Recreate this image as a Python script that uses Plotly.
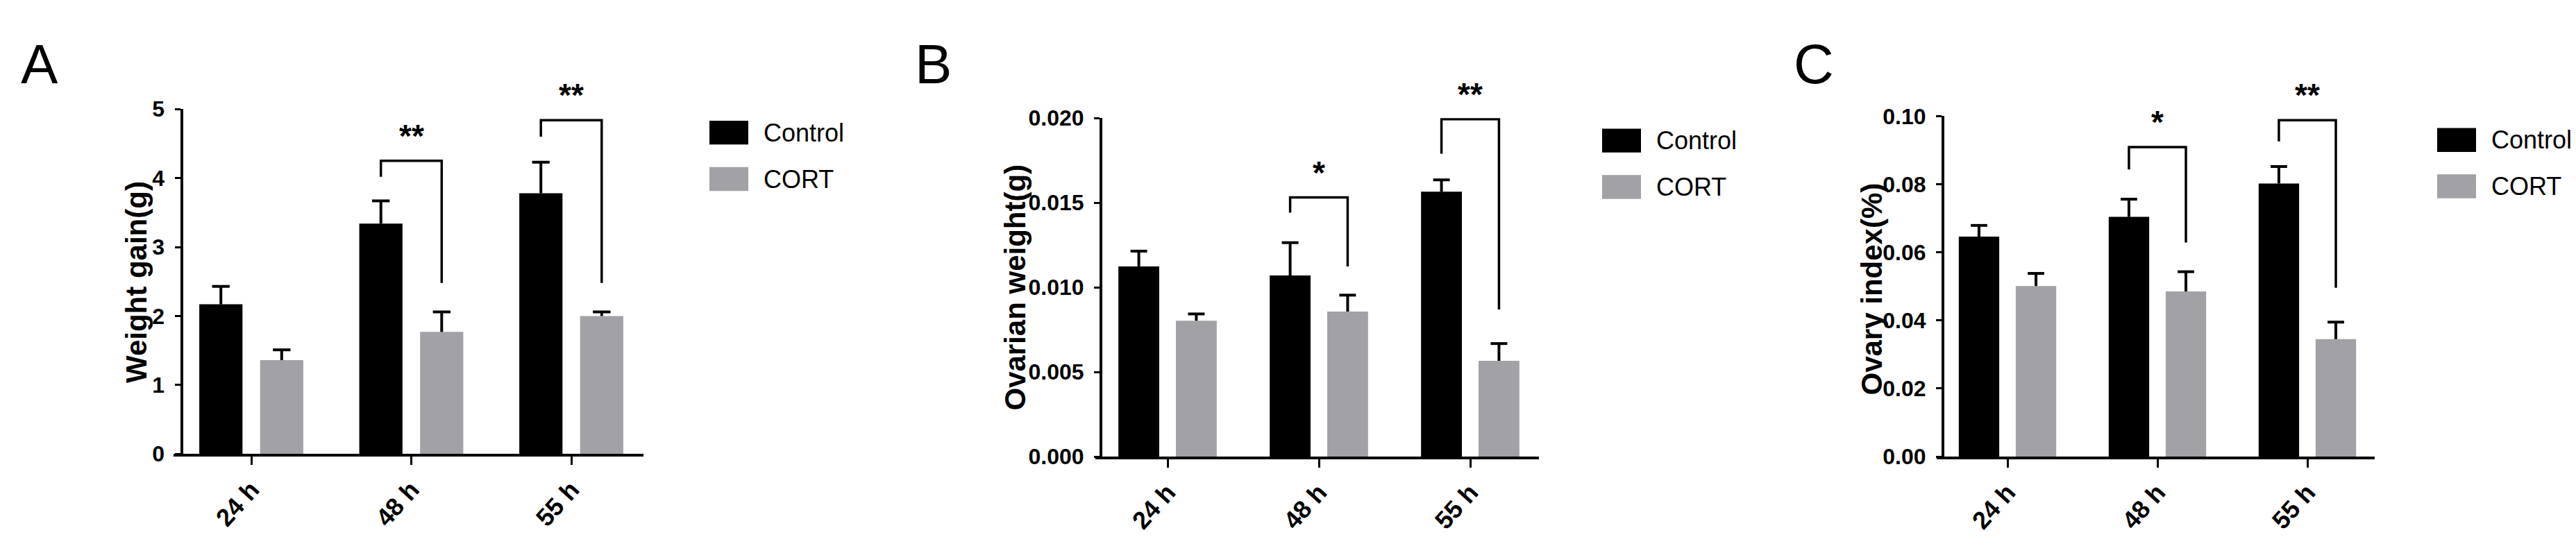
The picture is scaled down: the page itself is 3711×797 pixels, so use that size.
import plotly.graph_objects as go

WIDTH = 3711
HEIGHT = 797

CONTROL_COLOR = "#000000"
CORT_COLOR = "#A2A2A6"

FONT = "Liberation Sans, Arial, sans-serif"

# DATA
TIMES = ["24 h", "48 h", "55 h"]
GROUPS = ["Control", "CORT"]

WEIGHT_CONTROL = [2.17, 3.34, 3.78]
WEIGHT_CONTROL_SEM = [0.26, 0.33, 0.45]
WEIGHT_CORT = [1.36, 1.77, 2.00]
WEIGHT_CORT_SEM = [0.15, 0.29, 0.06]

OVARIAN_CONTROL = [0.01124, 0.01070, 0.01565]
OVARIAN_CONTROL_SEM = [0.00090, 0.00194, 0.00070]
OVARIAN_CORT = [0.00803, 0.00857, 0.00566]
OVARIAN_CORT_SEM = [0.00040, 0.00097, 0.00102]

INDEX_CONTROL = [0.0646, 0.0704, 0.0802]
INDEX_CONTROL_SEM = [0.0033, 0.0052, 0.0050]
INDEX_CORT = [0.0501, 0.0485, 0.0345]
INDEX_CORT_SEM = [0.0037, 0.0058, 0.0050]

# SIGNIFICANCE (48 h and 55 h)
SIG_TIMES = ["48 h", "55 h"]

WEIGHT_STARS = ["**", "**"]
WEIGHT_BRACKET_TOP = [4.25, 4.84]
WEIGHT_BRACKET_LEFT = [4.02, 4.60]
WEIGHT_BRACKET_RIGHT = [2.48, 2.48]

OVARIAN_STARS = ["*", "**"]
OVARIAN_BRACKET_TOP = [0.01531, 0.01994]
OVARIAN_BRACKET_LEFT = [0.01441, 0.01790]
OVARIAN_BRACKET_RIGHT = [0.01124, 0.00869]

INDEX_STARS = ["*", "**"]
INDEX_BRACKET_TOP = [0.0909, 0.0988]
INDEX_BRACKET_LEFT = [0.0843, 0.0926]
INDEX_BRACKET_RIGHT = [0.0629, 0.0496]

BAR_SHIFT = 0.19
BAR_WIDTH = 0.27
CAP = 0.055
STAR_SIZE = 46
STAR_SHIFT = 36


def fx(px):
    return px / WIDTH


def fy(py):
    return 1 - py / HEIGHT


# ONE PANEL
def bar_panel(fig, idx, control, control_sem, cort, cort_sem,
              stars, top, left_end, right_end, geo):

    suffix = "" if idx == 1 else str(idx)
    xname = "x" + suffix
    yname = "y" + suffix
    centers = list(range(len(TIMES)))

    series = [
        (control, control_sem, CONTROL_COLOR, -BAR_SHIFT, GROUPS[0]),
        (cort, cort_sem, CORT_COLOR, BAR_SHIFT, GROUPS[1]),
    ]

    for values, sem, color, shift, name in series:

        xs = [c + shift for c in centers]

        fig.add_trace(
            go.Bar(
                x=xs,
                y=values,
                width=BAR_WIDTH,
                name=name,
                marker=dict(color=color, line=dict(width=0)),
                showlegend=False,
                xaxis=xname,
                yaxis=yname
            )
        )

        # upper error bars only
        ex, ey = [], []
        for x, v, s in zip(xs, values, sem):
            ex += [x, x, None, x - CAP, x + CAP, None]
            ey += [v, v + s, None, v + s, v + s, None]

        fig.add_trace(
            go.Scatter(
                x=ex,
                y=ey,
                mode="lines",
                line=dict(color="black", width=4),
                showlegend=False,
                hoverinfo="skip",
                xaxis=xname,
                yaxis=yname
            )
        )

    # brackets + stars
    for t, label, yt, yl, yr in zip(SIG_TIMES, stars, top, left_end, right_end):

        g = TIMES.index(t)
        xl = g - BAR_SHIFT
        xr = g + BAR_SHIFT

        fig.add_trace(
            go.Scatter(
                x=[xl, xl, xr, xr],
                y=[yl, yt, yt, yr],
                mode="lines",
                line=dict(color="black", width=3.5),
                showlegend=False,
                hoverinfo="skip",
                xaxis=xname,
                yaxis=yname
            )
        )

        fig.add_annotation(
            x=g,
            y=yt,
            xref=xname,
            yref=yname,
            text=label,
            showarrow=False,
            yanchor="middle",
            yshift=STAR_SHIFT,
            font=dict(family=FONT, size=STAR_SIZE, color="black", weight="bold")
        )

    x0, x1 = geo["x_line"]
    first, step = geo["tick0"], geo["tick_step"]

    fig.layout["xaxis" + suffix] = dict(
        domain=[fx(x0), fx(x1)],
        range=[(x0 - first) / step, (x1 - first) / step],
        anchor=yname,
        tickmode="array",
        tickvals=centers,
        ticktext=TIMES,
        tickangle=-48,
        ticks="outside",
        ticklen=12,
        tickwidth=3,
        tickcolor="black",
        showline=True,
        linecolor="black",
        linewidth=4,
        showgrid=False,
        zeroline=False,
        tickfont=dict(family=FONT, size=36, color="black", weight="bold")
    )

    fig.layout["yaxis" + suffix] = dict(
        domain=[fy(geo["y_zero"]), fy(geo["y_top"])],
        range=[0, geo["y_max"]],
        anchor="free",
        position=fx(geo["y_line"]),
        tickmode="linear",
        tick0=0,
        dtick=geo["dtick"],
        tickformat=geo["tickformat"],
        ticks="outside",
        ticklen=8,
        tickwidth=3,
        tickcolor="black",
        ticklabelstandoff=8,
        showline=True,
        linecolor="black",
        linewidth=4,
        showgrid=False,
        zeroline=False,
        tickfont=dict(family=FONT, size=32, color="black", weight="bold")
    )

    # y title
    tx, ty = geo["title_xy"]
    fig.add_annotation(
        x=fx(tx),
        y=fy(ty),
        xref="paper",
        yref="paper",
        text=geo["title"],
        textangle=-90,
        showarrow=False,
        xanchor="center",
        yanchor="middle",
        font=dict(family=FONT, size=42, color="black", weight="bold")
    )

    # panel letter
    fig.add_annotation(
        x=fx(geo["letter_x"]),
        y=fy(70),
        xref="paper",
        yref="paper",
        text=geo["letter"],
        showarrow=False,
        xanchor="left",
        yanchor="middle",
        font=dict(family=FONT, size=80, color="black")
    )

    # legend
    lx = geo["legend_x"]
    for name, color, ltop in zip(GROUPS, [CONTROL_COLOR, CORT_COLOR], geo["legend_tops"]):
        fig.add_shape(
            type="rect",
            xref="paper",
            yref="paper",
            x0=fx(lx),
            x1=fx(lx + 56),
            y0=fy(ltop + 36),
            y1=fy(ltop),
            fillcolor=color,
            line=dict(width=0)
        )
        fig.add_annotation(
            x=fx(lx + 76),
            y=fy(ltop + 18),
            xref="paper",
            yref="paper",
            text=name,
            showarrow=False,
            xanchor="left",
            yanchor="middle",
            font=dict(family=FONT, size=36, color="black")
        )


fig = go.Figure()

bar_panel(
    fig, 1,
    WEIGHT_CONTROL, WEIGHT_CONTROL_SEM, WEIGHT_CORT, WEIGHT_CORT_SEM,
    WEIGHT_STARS, WEIGHT_BRACKET_TOP, WEIGHT_BRACKET_LEFT, WEIGHT_BRACKET_RIGHT,
    dict(
        x_line=(242, 919), tick0=354, tick_step=230.5,
        y_line=253.5, y_zero=658, y_top=137.5, y_max=5,
        dtick=1, tickformat="d",
        title="Weight gain(g)", title_xy=(189, 399),
        letter="A", letter_x=20,
        legend_x=1014, legend_tops=[155, 225]
    )
)

bar_panel(
    fig, 2,
    OVARIAN_CONTROL, OVARIAN_CONTROL_SEM, OVARIAN_CORT, OVARIAN_CORT_SEM,
    OVARIAN_STARS, OVARIAN_BRACKET_TOP, OVARIAN_BRACKET_LEFT, OVARIAN_BRACKET_RIGHT,
    dict(
        x_line=(1570, 2209), tick0=1674, tick_step=218,
        y_line=1578, y_zero=662, y_top=151, y_max=0.02,
        dtick=0.005, tickformat=".3f",
        title="Ovarian weight(g)", title_xy=(1455, 407),
        letter="B", letter_x=1308,
        legend_x=2300, legend_tops=[167, 237]
    )
)

bar_panel(
    fig, 3,
    INDEX_CONTROL, INDEX_CONTROL_SEM, INDEX_CORT, INDEX_CORT_SEM,
    INDEX_STARS, INDEX_BRACKET_TOP, INDEX_BRACKET_LEFT, INDEX_BRACKET_RIGHT,
    dict(
        x_line=(2782, 3413), tick0=2884, tick_step=216,
        y_line=2791, y_zero=662, y_top=148, y_max=0.1,
        dtick=0.02, tickformat=".2f",
        title="Ovary index(%)", title_xy=(2689, 409),
        letter="C", letter_x=2574,
        legend_x=3503, legend_tops=[166, 236]
    )
)

fig.update_layout(
    width=WIDTH,
    height=HEIGHT,
    margin=dict(l=0, r=0, t=0, b=0),
    barmode="overlay",
    paper_bgcolor="white",
    plot_bgcolor="white",
    showlegend=False
)

fig.write_html("out.html")
